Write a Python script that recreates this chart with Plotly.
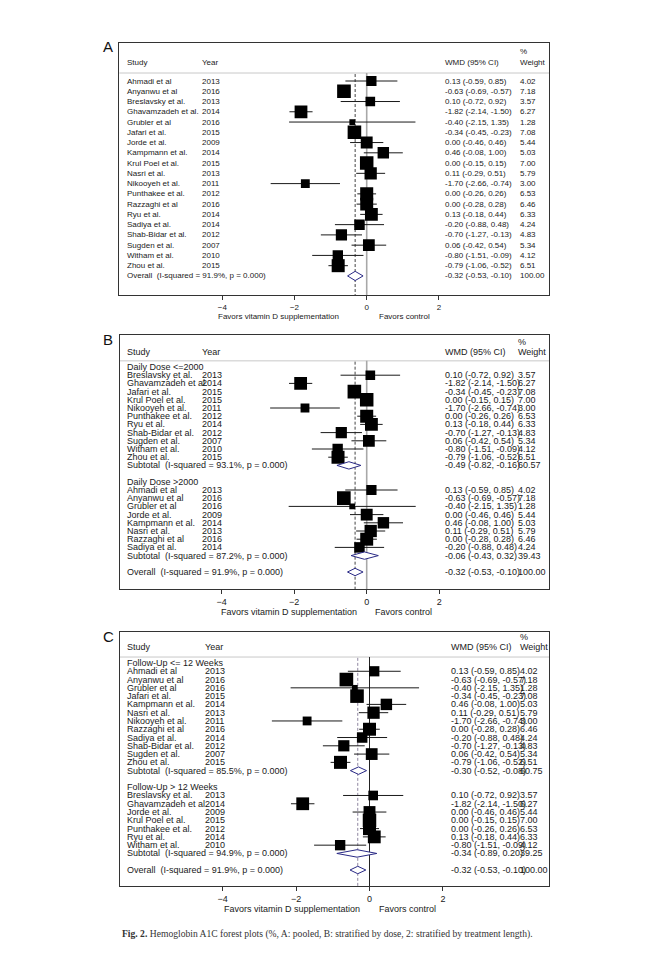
import math
import plotly.graph_objects as go

W, H = 657, 953

# ---------------- data ----------------
names = ["Ahmadi et al", "Anyanwu et al", "Breslavsky et al.", "Ghavamzadeh et al.", "Grubler et al",
         "Jafari et al.", "Jorde et al.", "Kampmann et al.", "Krul Poel et al.", "Nasri et al.",
         "Nikooyeh et al.", "Punthakee et al.", "Razzaghi et al", "Ryu et al.", "Sadiya et al.",
         "Shab-Bidar et al.", "Sugden et al.", "Witham et al.", "Zhou et al."]
years = [2013, 2016, 2013, 2014, 2016, 2015, 2009, 2014, 2015, 2013,
         2011, 2012, 2016, 2014, 2014, 2012, 2007, 2010, 2015]
wmd = [0.13, -0.63, 0.10, -1.82, -0.40, -0.34, 0.00, 0.46, 0.00, 0.11,
       -1.70, 0.00, 0.00, 0.13, -0.20, -0.70, 0.06, -0.80, -0.79]
ci_low = [-0.59, -0.69, -0.72, -2.14, -2.15, -0.45, -0.46, -0.08, -0.15, -0.29,
          -2.66, -0.26, -0.28, -0.18, -0.88, -1.27, -0.42, -1.51, -1.06]
ci_high = [0.85, -0.57, 0.92, -1.50, 1.35, -0.23, 0.46, 1.00, 0.15, 0.51,
           -0.74, 0.26, 0.28, 0.44, 0.48, -0.13, 0.54, -0.09, -0.52]
weights = [4.02, 7.18, 3.57, 6.27, 1.28, 7.08, 5.44, 5.03, 7.00, 5.79,
           3.00, 6.53, 6.46, 6.33, 4.24, 4.83, 5.34, 4.12, 6.51]

overall_wmd = -0.32
overall_low = -0.53
overall_high = -0.10
overall_weight = 100.00
overall_i2 = 91.9
overall_p = 0.000

dose_groups = ["Daily Dose <=2000", "Daily Dose >2000"]
dose_members = [
    ["Breslavsky et al.", "Ghavamzadeh et al.", "Jafari et al.", "Krul Poel et al.", "Nikooyeh et al.",
     "Punthakee et al.", "Ryu et al.", "Shab-Bidar et al.", "Sugden et al.", "Witham et al.", "Zhou et al."],
    ["Ahmadi et al", "Anyanwu et al", "Grubler et al", "Jorde et al.", "Kampmann et al.",
     "Nasri et al.", "Razzaghi et al", "Sadiya et al."],
]
dose_sub_wmd = [-0.49, -0.06]
dose_sub_low = [-0.82, -0.43]
dose_sub_high = [-0.16, 0.32]
dose_sub_weight = [60.57, 39.43]
dose_sub_i2 = [93.1, 87.2]
dose_sub_p = [0.000, 0.000]

fu_groups = ["Follow-Up <= 12 Weeks", "Follow-Up > 12 Weeks"]
fu_members = [
    ["Ahmadi et al", "Anyanwu et al", "Grubler et al", "Jafari et al.", "Kampmann et al.", "Nasri et al.",
     "Nikooyeh et al.", "Razzaghi et al", "Sadiya et al.", "Shab-Bidar et al.", "Sugden et al.", "Zhou et al."],
    ["Breslavsky et al.", "Ghavamzadeh et al.", "Jorde et al.", "Krul Poel et al.", "Punthakee et al.",
     "Ryu et al.", "Witham et al."],
]
fu_sub_wmd = [-0.30, -0.34]
fu_sub_low = [-0.52, -0.89]
fu_sub_high = [-0.08, 0.20]
fu_sub_weight = [60.75, 39.25]
fu_sub_i2 = [85.5, 94.9]
fu_sub_p = [0.000, 0.000]

tick_vals = [-4, -2, 0, 2]
x_title_left = "Favors vitamin D supplementation"
x_title_right = "Favors control"
col_headers = ["Study", "Year", "WMD (95% CI)", "Weight"]
caption_bold = "Fig. 2."
caption_text = "Hemoglobin A1C forest plots (%, A: pooled, B: stratified by dose, 2: stratified by treatment length)."

# ---------------- layout config (pixels) ----------------
panels = [
    dict(label="A", top=43, bottom=295, first=81, step=10.26, zero=366.7, scale=36.1,
         left=119.3, right=549, fs=8, cols=(125, 200, 443, 518), hdr=-1.85, pct=-2.92, sep=-0.78,
         xt=(341, 377, 316.5), zcol="#a8a8a8", zw=1.6, dcol="#444444", grouped=None),
    dict(label="B", top=335, bottom=589, first=367, step=8.2, zero=366.7, scale=36.3,
         left=119.5, right=549, fs=9, cols=(125, 200, 443, 516), hdr=-1.85, pct=-3.0, sep=-0.75,
         xt=(359, 373, 611.5), zcol="#a8a8a8", zw=1.6, dcol="#444444", grouped="dose"),
    dict(label="C", top=632, bottom=886, first=663, step=8.28, zero=369.5, scale=36.7,
         left=120, right=549, fs=9, cols=(125, 203, 449, 518), hdr=-1.9, pct=-3.1, sep=-0.72,
         xt=(362, 377, 909), zcol="#222222", zw=1.0, dcol="#8f86a0", grouped="fu"),
]

FONT = "Liberation Sans"
TXT = "#1a1a1a"
NAVY = "#2a2a86"
BOX_K = 5.1


def esc(s):
    return s.replace("&", "&amp;").replace("<", "&lt;").replace(">", "&gt;").replace("  ", "\u00a0\u00a0")


def fmt_ci(e, l, h):
    return f"{e:.2f} ({l:.2f}, {h:.2f})"


fig = go.Figure()
annotations = []
shapes = []

for pi, P in enumerate(panels):
    sfx = "" if pi == 0 else str(pi + 1)
    xref = "x" + sfx
    yref = "y" + sfx

    # build rows
    study_rows = []   # (row, idx)
    summary_rows = []  # (row, est, lo, hi, weight, label)
    header_rows = []  # (row, text)
    if P["grouped"] is None:
        r = 0
        for i in range(len(names)):
            study_rows.append((r, i))
            r += 1
        overall_row = r
    else:
        if P["grouped"] == "dose":
            groups, members = dose_groups, dose_members
            sw, sl, sh, swt, si2, sp = dose_sub_wmd, dose_sub_low, dose_sub_high, dose_sub_weight, dose_sub_i2, dose_sub_p
        else:
            groups, members = fu_groups, fu_members
            sw, sl, sh, swt, si2, sp = fu_sub_wmd, fu_sub_low, fu_sub_high, fu_sub_weight, fu_sub_i2, fu_sub_p
        r = 0
        for g in range(len(groups)):
            header_rows.append((r, groups[g]))
            r += 1
            for nm in members[g]:
                study_rows.append((r, names.index(nm)))
                r += 1
            summary_rows.append((r, sw[g], sl[g], sh[g], swt[g],
                                 f"Subtotal  (I-squared = {si2[g]:.1f}%, p = {sp[g]:.3f})"))
            r += 2
        overall_row = r
    summary_rows.append((overall_row, overall_wmd, overall_low, overall_high, overall_weight,
                         f"Overall  (I-squared = {overall_i2:.1f}%, p = {overall_p:.3f})"))

    y_top = -(P["first"] - P["top"]) / P["step"]
    y_bot = (P["bottom"] - P["first"]) / P["step"]
    x_lo = (P["left"] - P["zero"]) / P["scale"]
    x_hi = (P["right"] - P["zero"]) / P["scale"]

    fig.update_layout(**{
        "xaxis" + sfx: dict(domain=[P["left"] / W, P["right"] / W], range=[x_lo, x_hi], anchor=yref,
                            tickvals=tick_vals, ticks="outside", ticklen=4, tickcolor="#333",
                            showline=True, mirror=True, linecolor="#333", linewidth=1,
                            showgrid=False, zeroline=False,
                            tickfont=dict(family=FONT, size=P["fs"], color=TXT)),
        "yaxis" + sfx: dict(domain=[1 - P["bottom"] / H, 1 - P["top"] / H], range=[y_bot, y_top],
                            anchor=xref, showline=True, mirror=True, linecolor="#333", linewidth=1,
                            showgrid=False, zeroline=False, showticklabels=False, ticks=""),
    })

    # reference lines
    shapes.append(dict(type="line", xref="paper", yref=yref, x0=P["left"] / W, x1=P["right"] / W,
                       y0=P["sep"], y1=P["sep"], line=dict(color="#c8c8c8", width=1), layer="below"))
    shapes.append(dict(type="line", xref=xref, yref=yref, x0=0, x1=0, y0=P["sep"], y1=y_bot,
                       line=dict(color=P["zcol"], width=P["zw"]), layer="below"))
    shapes.append(dict(type="line", xref=xref, yref=yref, x0=overall_wmd, x1=overall_wmd,
                       y0=P["sep"] + 0.1, y1=y_bot,
                       line=dict(color=P["dcol"], width=1, dash="3px,2px"), layer="below"))

    # CI lines
    cx, cy = [], []
    for r, i in study_rows:
        cx += [ci_low[i], ci_high[i], None]
        cy += [r, r, None]
    fig.add_trace(go.Scatter(x=cx, y=cy, mode="lines", line=dict(color="#1a1a1a", width=1),
                             xaxis=xref, yaxis=yref, showlegend=False, hoverinfo="skip"))
    # squares
    fig.add_trace(go.Scatter(x=[wmd[i] for r, i in study_rows], y=[r for r, i in study_rows],
                             mode="markers",
                             marker=dict(symbol="square", color="black", opacity=1,
                                         size=[BOX_K * math.sqrt(weights[i]) for r, i in study_rows],
                                         line=dict(width=0)),
                             xaxis=xref, yaxis=yref, showlegend=False, hoverinfo="skip"))
    # diamonds
    for (r, e, l, h, wt, lab) in summary_rows:
        hh = 0.45
        fig.add_trace(go.Scatter(x=[l, e, h, e, l], y=[r, r - hh, r, r + hh, r], mode="lines",
                                 fill="toself", fillcolor="white", line=dict(color=NAVY, width=1),
                                 xaxis=xref, yaxis=yref, showlegend=False, hoverinfo="skip"))

    c_study, c_year, c_wmd, c_wt = P["cols"]
    fs = P["fs"]

    def txt(xpx, yv, s, size=fs, anchor="left"):
        annotations.append(dict(x=xpx / W, y=yv, xref="paper", yref=yref, text=esc(s), showarrow=False,
                                xanchor=anchor, yanchor="middle",
                                font=dict(family=FONT, size=size, color=TXT)))

    # headers
    txt(c_study, P["hdr"], col_headers[0])
    txt(c_year, P["hdr"], col_headers[1])
    txt(c_wmd, P["hdr"], col_headers[2])
    txt(c_wt, P["hdr"], col_headers[3])
    txt(c_wt, P["pct"], "%")

    for r, s in header_rows:
        txt(c_study, r, s)
    for r, i in study_rows:
        txt(c_study, r, names[i])
        txt(c_year, r, str(years[i]))
        txt(c_wmd, r, fmt_ci(wmd[i], ci_low[i], ci_high[i]))
        txt(c_wt, r, f"{weights[i]:.2f}")
    for (r, e, l, h, wt, lab) in summary_rows:
        txt(c_study, r, lab)
        txt(c_wmd, r, fmt_ci(e, l, h))
        txt(c_wt, r, f"{wt:.2f}")

    # x-axis titles
    xl_end, xr_start, xt_y = P["xt"]
    annotations.append(dict(x=xl_end / W, y=1 - xt_y / H, xref="paper", yref="paper", text=x_title_left,
                            showarrow=False, xanchor="right", yanchor="middle",
                            font=dict(family=FONT, size=fs, color=TXT)))
    annotations.append(dict(x=xr_start / W, y=1 - xt_y / H, xref="paper", yref="paper", text=x_title_right,
                            showarrow=False, xanchor="left", yanchor="middle",
                            font=dict(family=FONT, size=fs, color=TXT)))
    # panel letter
    annotations.append(dict(x=108 / W, y=1 - (P["top"] + 4) / H, xref="paper", yref="paper",
                            text=P["label"], showarrow=False, xanchor="center", yanchor="middle",
                            font=dict(family=FONT, size=15, color="#111")))

# caption
annotations.append(dict(x=120 / W, y=1 - 934 / H, xref="paper", yref="paper",
                        text=f"<b>{caption_bold}</b> {caption_text}", showarrow=False,
                        xanchor="left", yanchor="middle",
                        font=dict(family="Liberation Serif", size=9.6, color="#333")))

fig.update_layout(width=W, height=H, margin=dict(l=0, r=0, t=0, b=0),
                  paper_bgcolor="white", plot_bgcolor="white",
                  annotations=annotations, shapes=shapes, showlegend=False)

fig.write_html("out.html", config={"displayModeBar": False},
               post_script="document.body.style.margin='0px';document.body.style.overflow='hidden';")
